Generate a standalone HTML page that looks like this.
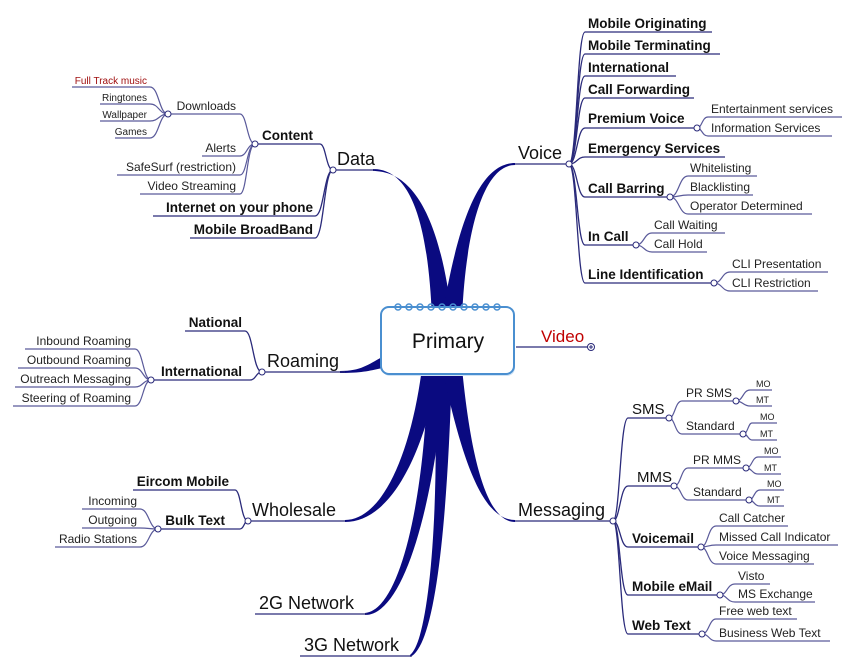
<!DOCTYPE html>
<html><head><meta charset="utf-8"><style>
html,body{margin:0;padding:0;background:#fff;}
svg{display:block;font-family:"Liberation Sans","DejaVu Sans",sans-serif;}
.b{font-size:13.5px;font-weight:bold;fill:#111;}
.n{font-size:12px;fill:#222;}
.s{font-size:10px;fill:#222;}
.t{font-size:9px;fill:#222;}
.m{font-size:18px;fill:#111;}
.l{fill:none;stroke:#2a2a7a;stroke-width:1.3;}
.l2{fill:none;stroke:#5a5a9a;stroke-width:1.2;}
.c{fill:#fff;stroke:#2a2a7a;stroke-width:1;}
.e{text-anchor:end;}
</style></head><body>
<svg width="854" height="667" viewBox="0 0 854 667">
<rect width="854" height="667" fill="#fff"/>
<g fill="#0a0a80">
<path d="M373,169 C410,169 428,220 432,318 L452,318 C440,215 412,171 373,171 Z"/>
<path d="M515,163 C480,163 458,220 442,318 L462,318 C466,225 485,165 515,165 Z"/>
<path d="M340,371 C365,371 370,362 392,352 L392,366 C372,370 365,373 340,373 Z"/>
<path d="M345,520 C380,520 410,460 422,368 L440,368 C420,470 385,522 345,522 Z"/>
<path d="M365,613 C400,610 425,500 428,368 L446,368 C435,500 405,615 365,615 Z"/>
<path d="M410,655 C430,640 440,500 434,368 L452,368 C448,500 438,645 410,657 Z"/>
<path d="M515,520 C480,520 460,450 442,368 L462,368 C470,450 485,522 515,522 Z"/>
</g>
<g class="l">
<path d="M333,170 H375"/>
<path d="M515,164 H569"/>
<path d="M262,372 H345"/>
<path d="M248,521 H345"/>
<path d="M255,614 H367"/>
<path d="M300,656 H412"/>
<path d="M515,521 H613"/>
<path d="M516,347 H590"/>
</g>
<g class="l">
<path d="M569 164 C577 164 577 32 585 32 H712"/>
<path d="M569 164 C577 164 577 54 585 54 H720"/>
<path d="M569 164 C577 164 577 76 585 76 H676"/>
<path d="M569 164 C577 164 577 98 585 98 H694"/>
<path d="M569 164 C577 164 577 128 585 128 H697"/>
<path d="M569 164 C577 164 577 157 585 157 H725"/>
<path d="M569 164 C577 164 577 197 585 197 H670"/>
<path d="M569 164 C577 164 577 245 585 245 H636"/>
<path d="M569 164 C577 164 577 283 585 283 H714"/>
</g>
<g class="l2">
<path d="M697 128 C702 128 702 117 708 117 H842"/>
<path d="M697 128 C702 128 702 136 708 136 H832"/>
<path d="M670 197 C679 197 679 176 688 176 H757"/>
<path d="M670 197 C679 197 679 195 688 195 H753"/>
<path d="M670 197 C679 197 679 214 688 214 H812"/>
<path d="M636 245 C644 245 644 233 652 233 H725"/>
<path d="M636 245 C644 245 644 252 652 252 H707"/>
<path d="M714 283 C722 283 722 272 730 272 H828"/>
<path d="M714 283 C722 283 722 291 730 291 H818"/>
</g>
<g class="l">
<path d="M333 170 C326 170 326 144 320 144 H255"/>
<path d="M333 170 C324 170 324 216 315 216 H153"/>
<path d="M333 170 C324 170 324 238 315 238 H190"/>
</g>
<g class="l2">
<path d="M255 144 C247 144 247 114 240 114 H168"/>
<path d="M255 144 C247 144 247 156 240 156 H202"/>
<path d="M255 144 C247 144 247 175 240 175 H117"/>
<path d="M255 144 C247 144 247 194 240 194 H140"/>
<path d="M168 114 C159 114 159 87 150 87 H72"/>
<path d="M168 114 C159 114 159 104 150 104 H100"/>
<path d="M168 114 C159 114 159 121 150 121 H100"/>
<path d="M168 114 C159 114 159 138 150 138 H115"/>
</g>
<g class="l">
<path d="M262 372 C253 372 253 331 245 331 H185"/>
<path d="M262 372 C256 372 256 380 250 380 H152"/>
</g>
<g class="l2">
<path d="M151 380 C143 380 143 349 135 349 H25"/>
<path d="M151 380 C143 380 143 368 135 368 H18"/>
<path d="M151 380 C143 380 143 387 135 387 H15"/>
<path d="M151 380 C143 380 143 406 135 406 H13"/>
</g>
<g class="l">
<path d="M248 521 C241 521 241 490 235 490 H133"/>
<path d="M248 521 C244 521 244 529 240 529 H160"/>
</g>
<g class="l2">
<path d="M158 529 C149 529 149 509 140 509 H82"/>
<path d="M158 529 C149 529 149 528 140 528 H82"/>
<path d="M158 529 C149 529 149 547 140 547 H55"/>
</g>
<g class="l">
<path d="M613 521 C620 521 620 418 628 418 H668"/>
<path d="M613 521 C620 521 620 486 628 486 H673"/>
<path d="M613 521 C620 521 620 547 628 547 H700"/>
<path d="M613 521 C620 521 620 595 628 595 H720"/>
<path d="M613 521 C620 521 620 634 628 634 H702"/>
</g>
<g class="l2">
<path d="M669 418 C675 418 675 401 682 401 H736"/>
<path d="M669 418 C675 418 675 434 682 434 H743"/>
<path d="M736 401 C743 401 743 390 750 390 H772"/>
<path d="M736 401 C743 401 743 406 750 406 H772"/>
<path d="M743 434 C748 434 748 423 752 423 H777"/>
<path d="M743 434 C748 434 748 440 752 440 H777"/>
<path d="M674 486 C681 486 681 468 688 468 H746"/>
<path d="M674 486 C681 486 681 500 688 500 H749"/>
<path d="M746 468 C752 468 752 457 758 457 H781"/>
<path d="M746 468 C752 468 752 474 758 474 H781"/>
<path d="M749 500 C754 500 754 490 760 490 H784"/>
<path d="M749 500 C754 500 754 506 760 506 H784"/>
<path d="M701 547 C708 547 708 526 716 526 H788"/>
<path d="M701 547 C708 547 708 545 716 545 H838"/>
<path d="M701 547 C708 547 708 564 716 564 H814"/>
<path d="M720 595 C727 595 727 584 735 584 H770"/>
<path d="M720 595 C727 595 727 602 735 602 H815"/>
<path d="M702 634 C709 634 709 619 716 619 H797"/>
<path d="M702 634 C709 634 709 641 716 641 H830"/>
</g>
<g class="c">
<circle cx="333" cy="170" r="3"/><circle cx="569" cy="164" r="3"/><circle cx="697" cy="128" r="3"/>
<circle cx="670" cy="197" r="3"/><circle cx="636" cy="245" r="3"/><circle cx="714" cy="283" r="3"/>
<circle cx="255" cy="144" r="3"/><circle cx="168" cy="114" r="3"/><circle cx="262" cy="372" r="3"/>
<circle cx="151" cy="380" r="3"/><circle cx="248" cy="521" r="3"/><circle cx="158" cy="529" r="3"/>
<circle cx="613" cy="521" r="3"/><circle cx="669" cy="418" r="3"/><circle cx="736" cy="401" r="3"/>
<circle cx="743" cy="434" r="3"/><circle cx="674" cy="486" r="3"/><circle cx="746" cy="468" r="3"/>
<circle cx="749" cy="500" r="3"/><circle cx="701" cy="547" r="3"/><circle cx="720" cy="595" r="3"/>
<circle cx="702" cy="634" r="3"/>
<circle cx="591" cy="347" r="3.5"/>
</g>
<path d="M589 347 H593 M591 345 V349" stroke="#2a2a7a" stroke-width="1"/>
<rect x="382" y="309" width="133" height="67" rx="8" fill="#cfe3f5"/>
<rect x="381" y="307" width="133" height="67" rx="8" fill="#fff" stroke="#4a8fd0" stroke-width="2"/>
<g fill="none" stroke="#4a8fd0" stroke-width="1.5">
<circle cx="398" cy="307" r="3"/><circle cx="409" cy="307" r="3"/><circle cx="420" cy="307" r="3"/>
<circle cx="431" cy="307" r="3"/><circle cx="442" cy="307" r="3"/><circle cx="453" cy="307" r="3"/>
<circle cx="464" cy="307" r="3"/><circle cx="475" cy="307" r="3"/><circle cx="486" cy="307" r="3"/>
<circle cx="497" cy="307" r="3"/>
</g>
<text x="448" y="348" text-anchor="middle" font-size="21" fill="#111">Primary</text>
<text x="541" y="342" font-size="17" fill="#c00000">Video</text>
<text class="m" x="337" y="165">Data</text>
<text class="m" x="518" y="159">Voice</text>
<text class="m" x="267" y="367">Roaming</text>
<text class="m" x="252" y="516">Wholesale</text>
<text class="m" x="259" y="609">2G Network</text>
<text class="m" x="304" y="651">3G Network</text>
<text class="m" x="518" y="516">Messaging</text>
<text class="b" x="588" y="28">Mobile Originating</text>
<text class="b" x="588" y="50">Mobile Terminating</text>
<text class="b" x="588" y="72">International</text>
<text class="b" x="588" y="94">Call Forwarding</text>
<text class="b" x="588" y="123">Premium Voice</text>
<text class="b" x="588" y="153">Emergency Services</text>
<text class="b" x="588" y="193">Call Barring</text>
<text class="b" x="588" y="241">In Call</text>
<text class="b" x="588" y="279">Line Identification</text>
<text class="n" x="711" y="113">Entertainment services</text>
<text class="n" x="711" y="132">Information Services</text>
<text class="n" x="690" y="172">Whitelisting</text>
<text class="n" x="690" y="191">Blacklisting</text>
<text class="n" x="690" y="210">Operator Determined</text>
<text class="n" x="654" y="229">Call Waiting</text>
<text class="n" x="654" y="248">Call Hold</text>
<text class="n" x="732" y="268">CLI Presentation</text>
<text class="n" x="732" y="287">CLI Restriction</text>
<text class="b e" x="313" y="140">Content</text>
<text class="b e" x="313" y="212">Internet on your phone</text>
<text class="b e" x="313" y="234">Mobile BroadBand</text>
<text class="n e" x="236" y="110">Downloads</text>
<text class="n e" x="236" y="152">Alerts</text>
<text class="n e" x="236" y="171">SafeSurf (restriction)</text>
<text class="n e" x="236" y="190">Video Streaming</text>
<text class="s e" x="147" y="84" style="fill:#a01010">Full Track music</text>
<text class="s e" x="147" y="101">Ringtones</text>
<text class="s e" x="147" y="118">Wallpaper</text>
<text class="s e" x="147" y="135">Games</text>
<text class="b e" x="242" y="327">National</text>
<text class="b e" x="242" y="376">International</text>
<text class="n e" x="131" y="345">Inbound Roaming</text>
<text class="n e" x="131" y="364">Outbound Roaming</text>
<text class="n e" x="131" y="383">Outreach Messaging</text>
<text class="n e" x="131" y="402">Steering of Roaming</text>
<text class="b e" x="229" y="486">Eircom Mobile</text>
<text class="b e" x="225" y="525">Bulk Text</text>
<text class="n e" x="137" y="505">Incoming</text>
<text class="n e" x="137" y="524">Outgoing</text>
<text class="n e" x="137" y="543">Radio Stations</text>
<text x="632" y="414" font-size="15" fill="#111">SMS</text>
<text x="637" y="482" font-size="15" fill="#111">MMS</text>
<text class="b" x="632" y="543">Voicemail</text>
<text class="b" x="632" y="591">Mobile eMail</text>
<text class="b" x="632" y="630">Web Text</text>
<text class="n" x="686" y="397">PR SMS</text>
<text class="n" x="686" y="430">Standard</text>
<text class="n" x="693" y="464">PR MMS</text>
<text class="n" x="693" y="496">Standard</text>
<text class="t" x="756" y="387">MO</text><text class="t" x="756" y="403">MT</text>
<text class="t" x="760" y="420">MO</text><text class="t" x="760" y="437">MT</text>
<text class="t" x="764" y="454">MO</text><text class="t" x="764" y="471">MT</text>
<text class="t" x="767" y="487">MO</text><text class="t" x="767" y="503">MT</text>
<text class="n" x="719" y="522">Call Catcher</text>
<text class="n" x="719" y="541">Missed Call Indicator</text>
<text class="n" x="719" y="560">Voice Messaging</text>
<text class="n" x="738" y="580">Visto</text>
<text class="n" x="738" y="598">MS Exchange</text>
<text class="n" x="719" y="615">Free web text</text>
<text class="n" x="719" y="637">Business Web Text</text>
</svg>
</body></html>
